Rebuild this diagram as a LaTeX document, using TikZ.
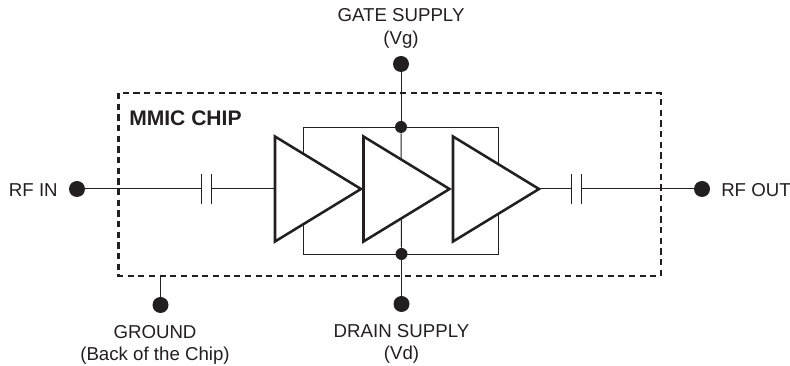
\documentclass[tikz,border=0pt]{standalone}
\usepackage{fontspec}
\setmainfont{Liberation Sans}
\usetikzlibrary{shapes.geometric}
\definecolor{inkblack}{RGB}{35,31,32}
\tikzset{
  wire/.style={draw=inkblack,line width=0.75pt},
  chipline/.style={draw=inkblack,line width=1.6pt,dash pattern=on 4.7pt off 3.3pt},
  bigdot/.style={circle,fill=inkblack,inner sep=0pt,minimum size=12pt},
  smalldot/.style={circle,fill=inkblack,inner sep=0pt,minimum size=9pt},
  ampnode/.style={isosceles triangle,isosceles triangle stretches,draw=inkblack,fill=white,line width=1.9pt,inner sep=0pt,outer sep=0pt,minimum width=78.75pt,minimum height=64.5pt,anchor=apex},
  capnode/.style={inner sep=0pt,outer sep=0pt,minimum width=7.5pt,minimum height=22pt},
  biasnode/.style={draw=inkblack,line width=0.75pt,inner sep=0pt,minimum width=146.5pt,minimum height=95.5pt},
  labeltext/.style={inner sep=0pt,text=inkblack,align=center,font=\fontsize{14}{16.8}\selectfont}
}
\begin{document}
\begin{tikzpicture}[x=0.75pt,y=0.75pt,yscale=-1,xscale=1]
\useasboundingbox (0,0) rectangle (790,366);

% chip outline
\draw [chipline] (118.5,93) rectangle (660.7,276);
\node [inner sep=0pt,text=inkblack,anchor=west,font=\fontsize{15.8}{18}\bfseries\selectfont] (chiplabel) at (129,118) {MMIC CHIP};

% bias rail
\node [biasnode] (biasbox) at (401.2,190.8) {};

% terminals
\node [bigdot] (rfin) at (77,189) {};
\node [bigdot] (rfout) at (702,189) {};
\node [bigdot] (gate) at (401,64) {};
\node [bigdot] (drain) at (401.5,304) {};
\node [bigdot] (ground) at (160.5,305) {};
\node [smalldot] (gatejoin) at (401,127) {};
\node [smalldot] (drainjoin) at (401.5,254) {};
\coordinate (groundtap) at (160.5,276);

% capacitors
\node [capnode] (capin) at (206,189) {};
\node [capnode] (capout) at (576,189) {};
\foreach \capname in {capin,capout}{
  \draw [wire] (\capname.north west) -- (\capname.south west);
  \draw [wire] (\capname.north east) -- (\capname.south east);
}

% wires
\draw [wire] (rfin) -- (capin.west);
\draw [wire] (capout.east) -- (rfout);
\draw [wire] (gate) -- (gatejoin);
\draw [wire] (gatejoin) -- (drainjoin);
\draw [wire] (drainjoin) -- (drain);
\draw [wire] (groundtap) -- (ground);

% amplifier stages
\node [ampnode] (ampc) at (539,189) {};
\node [ampnode] (ampb) at (449.5,189) {};
\node [ampnode] (ampa) at (361,189) {};
\draw [wire] (capin.east) -- (ampa.west);
\draw [wire] (ampc.apex) -- (capout.west);

% Text Node
\node [labeltext,anchor=east] (rfinlabel) at (58,190) {RF IN};
\node [labeltext,anchor=west] (rfoutlabel) at (721,190) {RF OUT};
\node [labeltext] (gatelabel) at (401,28.5) {GATE SUPPLY\\(Vg)};
\node [labeltext] (drainlabel) at (401.5,344) {DRAIN SUPPLY\\(Vd)};
\node [labeltext] (groundlabel) at (155,345) {GROUND\\(Back of the Chip)};

\end{tikzpicture}
\end{document}
